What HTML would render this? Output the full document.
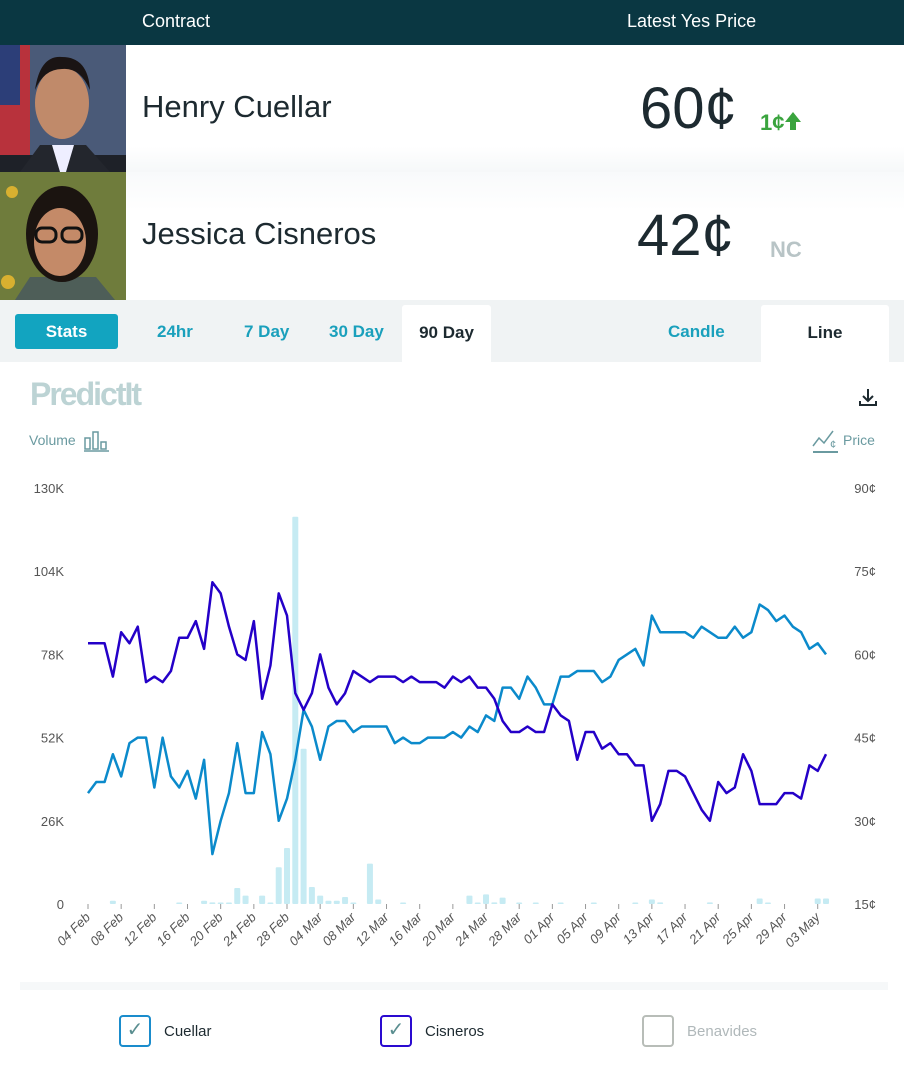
<!DOCTYPE html>
<html><head><meta charset="utf-8"><style>
*{box-sizing:border-box;margin:0;padding:0}
body{width:904px;height:1067px;background:#fff;font-family:"Liberation Sans",sans-serif;position:relative;overflow:hidden}
.abs{position:absolute}
.hdr{left:0;top:0;width:904px;height:45px;background:#0a3742;color:#fff;font-size:18px}
.tab{font-size:17px;font-weight:bold;color:#1aa0bc;top:322px}
</style></head><body>
<div class="abs hdr">
 <span class="abs" style="left:142px;top:11px">Contract</span>
 <span class="abs" style="left:627px;top:11px">Latest Yes Price</span>
</div>
<div class="abs" style="left:0;top:45px;width:904px;height:127px;background:linear-gradient(#fff 80%,#f6f8f9)">
 <svg class="abs" style="left:0;top:0" width="126" height="127">
  <rect width="126" height="127" fill="#4a5a78"/><rect width="30" height="127" fill="#b8323c"/><rect x="0" y="0" width="20" height="60" fill="#2c3e78"/>
  <rect x="0" y="110" width="126" height="17" fill="#1e2128"/><path d="M20 127 L40 100 L86 100 L110 127Z" fill="#23262d"/>
  <path d="M52 100 L74 100 L66 127 L60 127Z" fill="#eef"/><ellipse cx="62" cy="58" rx="27" ry="36" fill="#c08a6a"/><path d="M35 45 Q40 10 62 12 Q88 12 90 45 Q80 22 62 24 Q44 24 35 45Z" fill="#1a1414"/>
 </svg>
 <span class="abs" style="left:142px;top:44px;font-size:31px;color:#1d2a30">Henry Cuellar</span>
 <span class="abs" style="left:640px;top:30px;font-size:58px;color:#1d2a30">60¢</span>
 <span class="abs" style="left:760px;top:65px;font-size:22px;font-weight:bold;color:#3aa43e">1¢<svg width="18" height="20" style="vertical-align:-1px"><path d="M9 1 L17 11 L12 11 L12 19 L6 19 L6 11 L1 11Z" fill="#3aa43e"/></svg></span>
</div>
<div class="abs" style="left:0;top:172px;width:904px;height:128px;background:linear-gradient(#f8fafb,#fff 30%)">
 <svg class="abs" style="left:0;top:0" width="126" height="128">
  <rect width="126" height="128" fill="#6f7c3c"/><circle cx="12" cy="20" r="6" fill="#d8b030"/><circle cx="8" cy="110" r="7" fill="#d8b030"/>
  <path d="M15 128 L30 105 L96 105 L115 128Z" fill="#4e5e58"/><ellipse cx="62" cy="62" rx="36" ry="48" fill="#1b1410"/><ellipse cx="60" cy="70" rx="26" ry="34" fill="#c48a68"/>
  <rect x="36" y="56" width="20" height="14" rx="6" fill="none" stroke="#111" stroke-width="3"/><rect x="62" y="56" width="20" height="14" rx="6" fill="none" stroke="#111" stroke-width="3"/>
 </svg>
 <span class="abs" style="left:142px;top:44px;font-size:31px;color:#1d2a30">Jessica Cisneros</span>
 <span class="abs" style="left:637px;top:30px;font-size:58px;color:#1d2a30">42¢</span>
 <span class="abs" style="left:770px;top:65px;font-size:22px;font-weight:bold;color:#b8c4c6">NC</span>
</div>
<div class="abs" style="left:0;top:300px;width:904px;height:62px;background:#f0f3f4"></div>
<div class="abs" style="left:15px;top:314px;width:103px;height:35px;background:#12a4c0;border-radius:3px;color:#fff;font-weight:bold;font-size:17px;text-align:center;line-height:35px">Stats</div>
<span class="abs tab" style="left:157px">24hr</span>
<span class="abs tab" style="left:244px">7 Day</span>
<span class="abs tab" style="left:329px">30 Day</span>
<div class="abs" style="left:402px;top:305px;width:89px;height:57px;background:#fff;border-radius:3px 3px 0 0;font-size:17px;font-weight:bold;color:#1d2a30;text-align:center;line-height:56px">90 Day</div>
<span class="abs tab" style="left:668px">Candle</span>
<div class="abs" style="left:761px;top:305px;width:128px;height:57px;background:#fff;border-radius:3px 3px 0 0;font-size:17px;font-weight:bold;color:#1d2a30;text-align:center;line-height:56px">Line</div>
<span class="abs" style="left:30px;top:376px;font-size:32px;font-weight:bold;color:#bcd3d4;letter-spacing:-2px">PredictIt</span>
<svg class="abs" style="left:858px;top:387px" width="20" height="20"><path d="M10 2 V13 M5 9 L10 14 L15 9 M2 14 V18 H18 V14" stroke="#1d2a30" stroke-width="2" fill="none"/></svg>
<span class="abs" style="left:29px;top:432px;font-size:14px;color:#6a9aa0">Volume</span>
<svg class="abs" style="left:84px;top:430px" width="26" height="22"><g fill="none" stroke="#6a9aa0" stroke-width="1.5"><rect x="1" y="8" width="5" height="11"/><rect x="9" y="2" width="5" height="17"/><rect x="17" y="12" width="5" height="7"/><path d="M0 21 H25"/></g></svg>
<svg class="abs" style="left:812px;top:428px" width="28" height="26"><path d="M1 18 L7 10 L12 15 L21 3" stroke="#6a9aa0" stroke-width="1.5" fill="none"/><path d="M1 24 H26" stroke="#6a9aa0" stroke-width="2"/><text x="18" y="20" font-size="11" fill="#6a9aa0" font-family="Liberation Sans">¢</text></svg>
<span class="abs" style="left:843px;top:432px;font-size:14px;color:#6a9aa0">Price</span>
<svg id="chart" class="abs" style="left:0;top:470px" width="904" height="520"></svg>
<div class="abs" style="left:20px;top:982px;width:868px;height:8px;background:#f6f8f9"></div>
<div class="abs" style="left:119px;top:1015px;width:32px;height:32px;border:2.5px solid #1a8ccc;border-radius:4px;color:#5a8e90;font-size:20px;text-align:center;line-height:27px">✓</div>
<span class="abs" style="left:164px;top:1023px;font-size:15px;color:#1d2a30">Cuellar</span>
<div class="abs" style="left:380px;top:1015px;width:32px;height:32px;border:2.5px solid #2a0ad0;border-radius:4px;color:#5a8e90;font-size:20px;text-align:center;line-height:27px">✓</div>
<span class="abs" style="left:425px;top:1023px;font-size:15px;color:#1d2a30">Cisneros</span>
<div class="abs" style="left:642px;top:1015px;width:32px;height:32px;border:2.5px solid #b8bdb8;border-radius:4px"></div>
<span class="abs" style="left:687px;top:1023px;font-size:15px;color:#b0b8ba">Benavides</span>
<script>
const cuellar=[35,37,37,42,38,44,45,45,36,45,38,36,39,34,41,24,30,35,44,35,35,46,42,30,34,41,50,47,41,47,48,48,46,47,47,47,47,44,45,44,44,45,45,45,46,45,47,46,49,48,54,54,52,56,54,51,51,56,56,57,57,57,55,56,59,60,61,58,67,64,64,64,64,63,65,64,63,63,65,63,64,69,68,66,67,65,64,61,62,60];
const cisneros=[62,62,62,56,64,62,65,55,56,55,57,63,63,66,61,73,71,65,60,59,66,52,58,71,67,53,50,53,60,54,51,53,57,56,55,56,56,56,55,56,55,55,55,54,56,55,56,54,54,52,48,46,46,47,46,46,51,49,48,41,46,46,43,44,42,42,40,40,30,33,39,39,38,35,32,30,37,35,36,42,39,33,33,33,35,35,34,40,39,42];
const volume=[0,0,0,1,0,0,0,0,0,0,0,0.3,0,0,1,0.5,0.3,0.3,5,2.6,0,2.6,0.3,11.5,17.5,121,48.5,5.3,2.6,1,1,2.2,0.3,0,12.6,1.4,0,0,0.3,0,0,0,0,0,0,0,2.6,0.3,3,0.5,2,0,0.3,0,0.3,0,0,0.3,0,0,0,0.3,0,0,0,0,0.3,0,1.4,0.5,0,0,0,0,0,0.5,0,0,0,0,0,1.7,0.4,0,0,0,0,0,1.7,1.7];
const dateLabels=["04 Feb","08 Feb","12 Feb","16 Feb","20 Feb","24 Feb","28 Feb","04 Mar","08 Mar","12 Mar","16 Mar","20 Mar","24 Mar","28 Mar","01 Apr","05 Apr","09 Apr","13 Apr","17 Apr","21 Apr","25 Apr","29 Apr","03 May"];
const volTicks=[0,26,52,78,104,130];
const priceTicks=[15,30,45,60,75,90];
const svg=document.getElementById('chart');
const NS='http://www.w3.org/2000/svg';
const X0=88,X1=826,TOP=18,BOT=434;
const n=cuellar.length;
const x=i=>X0+(X1-X0)*i/(n-1);
const yV=v=>BOT-(BOT-TOP)*v/130;
const yP=p=>BOT-(BOT-TOP)*(p-15)/75;
function mk(t,a){const e=document.createElementNS(NS,t);for(const k in a)e.setAttribute(k,a[k]);svg.appendChild(e);return e;}
volTicks.forEach(v=>{const t=mk('text',{x:64,y:yV(v)+5,'text-anchor':'end','font-size':13,fill:'#555','font-family':'Liberation Sans'});t.textContent=v===0?'0':v+'K';

});
priceTicks.forEach(p=>{const t=mk('text',{x:876,y:yP(p)+5,'text-anchor':'end','font-size':13,fill:'#555','font-family':'Liberation Sans'});t.textContent=p+'¢';

});
volume.forEach((v,i)=>{if(v<=0)return;const h=Math.max(1.5,BOT-yV(v));const r=mk('rect',{x:x(i)-3,y:BOT-h,width:6,height:h,fill:'#c6ebf3',rx:1});

});
function line(arr,col,name){const p=mk('polyline',{points:arr.map((v,i)=>x(i)+','+yP(v)).join(' '),fill:'none',stroke:col,'stroke-width':2.5,'stroke-linejoin':'round'});

}
line(cuellar,'#0b8acb','cuellar-line');
line(cisneros,'#2400c8','cisneros-line');
dateLabels.forEach((d,k)=>{const xi=x(k*4);const tk=mk('line',{x1:xi,x2:xi,y1:BOT,y2:BOT+5,stroke:'#999'});


const t=mk('text',{x:xi+3,y:BOT+14,'text-anchor':'end','font-size':13,fill:'#555','font-style':'italic','font-family':'Liberation Sans',transform:`rotate(-45 ${xi+3} ${BOT+14})`});t.textContent=d;

});
</script>
</body></html>
